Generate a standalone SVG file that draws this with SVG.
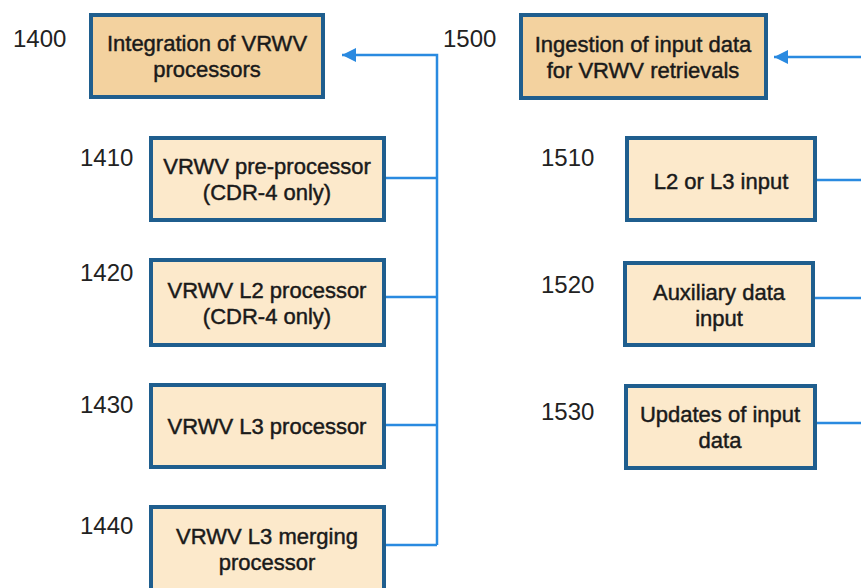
<svg xmlns="http://www.w3.org/2000/svg" width="861" height="588" viewBox="0 0 861 588">
<style>
.main{fill:#f3d29f;stroke:#1f5e8e;stroke-width:4}
.sub{fill:#fce9cb;stroke:#1f5e8e;stroke-width:4}
.t{font-family:"Liberation Sans",Arial,sans-serif;font-size:22px;fill:#1a1a1a;stroke:#1a1a1a;stroke-width:0.45;text-anchor:middle}
.n{font-family:"Liberation Sans",Arial,sans-serif;font-size:24px;fill:#222}
.c{fill:none;stroke:#2a8ae0;stroke-width:2.5}
</style>
<defs>
<marker id="ah" markerUnits="userSpaceOnUse" markerWidth="16" markerHeight="14" refX="14" refY="7" orient="auto">
<path d="M0,0 L14,7 L0,14 Z" fill="#2a8ae0"/>
</marker>
</defs>
<rect width="861" height="588" fill="#ffffff"/>
<g id="connectors">
<path class="c" d="M385,178 H437 M385,297 H437 M385,425 H437 M385,545 H437"/>
<path class="c" d="M437,545 V55 H342" marker-end="url(#ah)"/>
<path class="c" d="M861,57 H774" marker-end="url(#ah)"/>
<path class="c" d="M817,180 H861 M815,298 H861 M817,423 H861"/>
</g>
<g id="n1400">
<text class="n" x="13" y="47">1400</text>
<rect class="main" x="91" y="15" width="232" height="82"/>
<text class="t" x="207" y="51">Integration of VRWV</text>
<text class="t" x="207" y="77">processors</text>
</g>
<g id="n1410">
<text class="n" x="80" y="166">1410</text>
<rect class="sub" x="151" y="138" width="233" height="82"/>
<text class="t" x="267" y="174">VRWV pre-processor</text>
<text class="t" x="267" y="200">(CDR-4 only)</text>
</g>
<g id="n1420">
<text class="n" x="80" y="281">1420</text>
<rect class="sub" x="151" y="260" width="233" height="85"/>
<text class="t" x="267" y="298">VRWV L2 processor</text>
<text class="t" x="267" y="324">(CDR-4 only)</text>
</g>
<g id="n1430">
<text class="n" x="80" y="413">1430</text>
<rect class="sub" x="151" y="385" width="233" height="82"/>
<text class="t" x="267" y="434">VRWV L3 processor</text>
</g>
<g id="n1440">
<text class="n" x="80" y="534">1440</text>
<rect class="sub" x="151" y="507" width="233" height="92"/>
<text class="t" x="267" y="544">VRWV L3 merging</text>
<text class="t" x="267" y="570">processor</text>
</g>
<g id="n1500">
<text class="n" x="443" y="47">1500</text>
<rect class="main" x="521" y="15" width="245" height="83"/>
<text class="t" x="643" y="52">Ingestion of input data</text>
<text class="t" x="643" y="78">for VRWV retrievals</text>
</g>
<g id="n1510">
<text class="n" x="541" y="166">1510</text>
<rect class="sub" x="627" y="138" width="188" height="82"/>
<text class="t" x="721" y="189">L2 or L3 input</text>
</g>
<g id="n1520">
<text class="n" x="541" y="293">1520</text>
<rect class="sub" x="625" y="263" width="188" height="82"/>
<text class="t" x="719" y="300">Auxiliary data</text>
<text class="t" x="719" y="326">input</text>
</g>
<g id="n1530">
<text class="n" x="541" y="420">1530</text>
<rect class="sub" x="626" y="386" width="189" height="82"/>
<text class="t" x="720" y="422">Updates of input</text>
<text class="t" x="720" y="448">data</text>
</g>
</svg>
